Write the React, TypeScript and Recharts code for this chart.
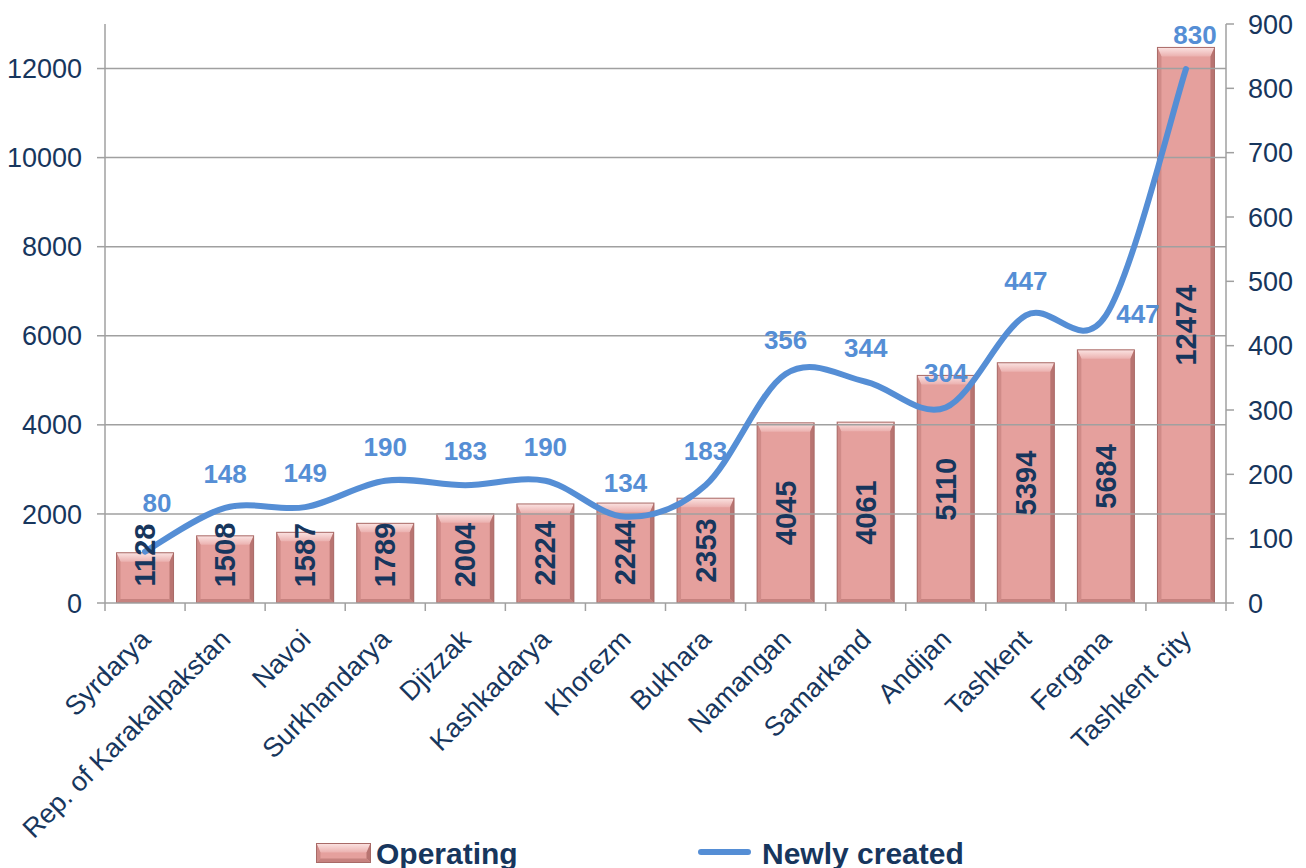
import React from 'react';
import { ComposedChart, Bar, Line, XAxis, YAxis, ReferenceLine, Legend, LabelList } from 'recharts';

const categories = ['Syrdarya', 'Rep. of Karakalpakstan', 'Navoi', 'Surkhandarya', 'Djizzak', 'Kashkadarya', 'Khorezm', 'Bukhara', 'Namangan', 'Samarkand', 'Andijan', 'Tashkent', 'Fergana', 'Tashkent city'];
const operating = [1128, 1508, 1587, 1789, 2004, 2224, 2244, 2353, 4045, 4061, 5110, 5394, 5684, 12474];
const newlyCreated = [80, 148, 149, 190, 183, 190, 134, 183, 356, 344, 304, 447, 447, 830];
const leftTicks = [0, 2000, 4000, 6000, 8000, 10000, 12000];
const rightTicks = [0, 100, 200, 300, 400, 500, 600, 700, 800, 900];

const data = categories.map((name, i) => ({ name, operating: operating[i], newly: newlyCreated[i] }));

const FONT = '"Liberation Sans", Arial, sans-serif';
const NAVY = '#17365D';
const BLUE = '#558ED5';
const GRID = '#A0A0A0';

const W = 1306;
const H = 868;
const TOP = 24;
const LEFT_W = 105;
const RIGHT_W = 80;
const PLOT_W = W - LEFT_W - RIGHT_W;
const BAND = PLOT_W / categories.length;

// Excel-like smoothed line (Catmull-Rom, 1/6 control)
const excelSmooth: any = (context: any) => {
  let pts: number[][] = [];
  return {
    areaStart() {},
    areaEnd() {},
    lineStart() { pts = []; },
    point(x: number, y: number) { pts.push([+x, +y]); },
    lineEnd() {
      const n = pts.length;
      if (!n) return;
      context.moveTo(pts[0][0], pts[0][1]);
      for (let i = 0; i < n - 1; i++) {
        const p0 = pts[i - 1] || pts[i];
        const p1 = pts[i];
        const p2 = pts[i + 1];
        const p3 = pts[i + 2] || p2;
        context.bezierCurveTo(
          p1[0] + (p2[0] - p0[0]) / 6, p1[1] + (p2[1] - p0[1]) / 6,
          p2[0] - (p3[0] - p1[0]) / 6, p2[1] - (p3[1] - p1[1]) / 6,
          p2[0], p2[1]
        );
      }
    },
  };
};

const BevelRect = ({ x, y, width, height }: any) => {
  if (!width || !height) return null;
  const t = Math.min(9, height / 2, width / 2);
  const s = Math.min(4, height / 2, width / 2);
  const r = x + width;
  const bt = y + height;
  return (
    <g>
      <defs>
        <linearGradient id="bevTop" x1="0" y1="0" x2="0" y2="1">
          <stop offset="0%" stopColor="#FBE3E2" />
          <stop offset="100%" stopColor="#EBB1AF" />
        </linearGradient>
      </defs>
      <rect x={x} y={y} width={width} height={height} fill="#E5A09D" />
      <polygon points={`${x},${y} ${r},${y} ${r - s},${y + t} ${x + s},${y + t}`} fill="url(#bevTop)" />
      <polygon points={`${x},${y} ${x + s},${y + t} ${x + s},${bt - s} ${x},${bt}`} fill="#D08B88" />
      <polygon points={`${r},${y} ${r - s},${y + t} ${r - s},${bt - s} ${r},${bt}`} fill="#B87471" />
      <polygon points={`${x},${bt} ${x + s},${bt - s} ${r - s},${bt - s} ${r},${bt}`} fill="#C6827F" />
      <rect x={x} y={y} width={width} height={height} fill="none" stroke="#A86A67" strokeWidth={1} />
    </g>
  );
};

const BarLabel = ({ x, y, width, height, value }: any) => {
  const cx = x + width / 2;
  const cy = Math.min(y + height / 2, y + height - 48);
  return (
    <text x={cx} y={cy} transform={`rotate(-90 ${cx} ${cy})`} textAnchor="middle" dominantBaseline="central"
      fill={NAVY} fontFamily={FONT} fontWeight="bold" fontSize={29}>{value}</text>
  );
};

const labelShift: Record<number, [number, number]> = { 0: [12, -15], 12: [32, 33], 13: [9, 0] };

const LineLabel = ({ x, y, value, index }: any) => {
  const [dx, dy] = labelShift[index] || [0, 0];
  return (
    <text x={x + dx} y={y - 34 + dy} textAnchor="middle" dominantBaseline="central"
      fill={BLUE} fontFamily={FONT} fontWeight="bold" fontSize={26}>{value}</text>
  );
};

const XTick = ({ x, y, payload, index }: any) => {
  const lx = x - BAND / 2;
  const tx = x + 7;
  const ty = y + 38;
  return (
    <g>
      <line x1={lx} x2={lx} y1={y} y2={y + 8} stroke={GRID} strokeWidth={1.5} />
      {index === categories.length - 1 && (
        <line x1={x + BAND / 2} x2={x + BAND / 2} y1={y} y2={y + 8} stroke={GRID} strokeWidth={1.5} />
      )}
      <text x={tx} y={ty} textAnchor="end" transform={`rotate(-45 ${tx} ${ty})`}
        fill={NAVY} fontFamily={FONT} fontSize={27}>{payload.value}</text>
    </g>
  );
};

const LegendContent = () => (
  <div style={{ position: 'relative', width: W, height: 40, fontFamily: FONT, fontWeight: 'bold', fontSize: 30, color: NAVY }}>
    <svg style={{ position: 'absolute', left: 316, top: 15 }} width={56} height={20}>
      <BevelRect x={0.5} y={0.5} width={54} height={19} />
    </svg>
    <span style={{ position: 'absolute', left: 376, top: 11, lineHeight: '30px', whiteSpace: 'nowrap' }}>Operating</span>
    <svg style={{ position: 'absolute', left: 698, top: 18 }} width={54} height={12}>
      <line x1={3} x2={50} y1={6} y2={6} stroke={BLUE} strokeWidth={6} strokeLinecap="round" />
    </svg>
    <span style={{ position: 'absolute', left: 762, top: 11, lineHeight: '30px', whiteSpace: 'nowrap' }}>Newly created</span>
  </div>
);

export default function App() {
  return (
    <div style={{ width: W, height: H, background: '#fff' }}>
      <style>{`body{margin:0;}`}</style>
      <ComposedChart width={W} height={H} data={data} margin={{ top: TOP, right: 0, left: 0, bottom: 0 }}
        barCategoryGap="14.4%">
        {leftTicks.slice(1).map((v) => (
          <ReferenceLine key={v} yAxisId="left" y={v} stroke={GRID} strokeWidth={1.5} ifOverflow="hidden" />
        ))}
        <XAxis dataKey="name" height={225} interval={0} tickSize={0} tickMargin={0} tickLine={false}
          axisLine={{ stroke: GRID, strokeWidth: 1.5 }} tick={<XTick />} />
        <YAxis yAxisId="left" orientation="left" width={LEFT_W} domain={[0, 13000]} ticks={leftTicks}
          allowDataOverflow tickSize={8} tickMargin={15}
          axisLine={{ stroke: GRID, strokeWidth: 1.5 }} tickLine={{ stroke: GRID, strokeWidth: 1.5 }}
          tick={{ fill: NAVY, fontFamily: FONT, fontSize: 27 }} />
        <YAxis yAxisId="right" orientation="right" width={RIGHT_W} domain={[0, 900]} ticks={rightTicks}
          allowDataOverflow tickSize={8} tickMargin={14}
          axisLine={{ stroke: GRID, strokeWidth: 1.5 }} tickLine={{ stroke: GRID, strokeWidth: 1.5 }}
          tick={{ fill: NAVY, fontFamily: FONT, fontSize: 27 }} />
        <Bar yAxisId="left" dataKey="operating" name="Operating" shape={<BevelRect />} isAnimationActive={false}>
          <LabelList dataKey="operating" content={<BarLabel />} />
        </Bar>
        <Line yAxisId="right" dataKey="newly" name="Newly created" type={excelSmooth} stroke={BLUE}
          strokeWidth={6} strokeLinecap="round" dot={false} activeDot={false} isAnimationActive={false}>
          <LabelList dataKey="newly" content={<LineLabel />} />
        </Line>
        <Legend verticalAlign="bottom" height={40} content={<LegendContent />}
          wrapperStyle={{ left: 0, top: 828, width: W, height: 40 }} />
      </ComposedChart>
    </div>
  );
}
